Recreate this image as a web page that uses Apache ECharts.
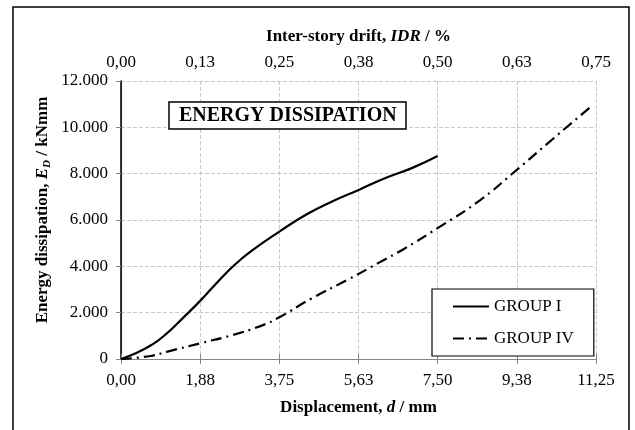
<!DOCTYPE html>
<html>
<head>
<meta charset="utf-8">
<script src="https://cdn.jsdelivr.net/npm/echarts@6/dist/echarts.min.js"></script>
<style>html,body{margin:0;padding:0;background:#fff;}#c{width:635px;height:430px;}</style>
</head>
<body>
<div id="c"></div>
<script>
// ---- data ----
const groupI = [[0,0],[0.35,250],[0.7,580],[1.0,970],[1.5,1830],[1.88,2520],[2.3,3350],[2.7,4080],[3.1,4680],[3.75,5500],[4.4,6250],[5.0,6800],[5.63,7300],[6.25,7800],[6.9,8250],[7.5,8760]];
const groupIV = [[0,0],[0.7,130],[1.1,320],[1.88,680],[2.65,1040],[3.3,1420],[3.75,1800],[4.5,2600],[5.4,3450],[6.1,4150],[6.7,4750],[7.5,5650],[8.5,6850],[9.3,8050],[10.1,9300],[11.1,10850]];
const seriesNames = ['GROUP I', 'GROUP IV'];
const xTickLabels = ['0,00','1,88','3,75','5,63','7,50','9,38','11,25'];
const topTickLabels = ['0,00','0,13','0,25','0,38','0,50','0,63','0,75'];
const yTickLabels = ['0','2.000','4.000','6.000','8.000','10.000','12.000'];

const FONT = '"Liberation Serif", "Times New Roman", serif';
const chart = echarts.init(document.getElementById('c'));
const gridColor = '#c8c8c8';
const axisColor = '#868686';

chart.setOption({
  animation: false,
  backgroundColor: '#fff',
  textStyle: { fontFamily: FONT, color: '#000' },
  title: {
    text: 'ENERGY DISSIPATION',
    left: 169, top: 102,
    padding: [4, 10, 3, 10],
    borderColor: '#000', borderWidth: 1.5,
    backgroundColor: '#fff',
    textStyle: { fontFamily: FONT, fontWeight: 'bold', fontSize: 20, color: '#000' }
  },
  legend: {
    left: 432, top: 289,
    orient: 'vertical',
    padding: [9, 20, 9, 20],
    itemWidth: 36, itemHeight: 14, itemGap: 15,
    borderColor: '#000', borderWidth: 1.2,
    backgroundColor: '#fff',
    itemStyle: { opacity: 0 },
    textStyle: { fontFamily: FONT, fontSize: 17, color: '#000' },
    data: seriesNames
  },
  grid: { left: 121, right: 39, top: 81, bottom: 71 },
  xAxis: [
    {
      type: 'value', position: 'bottom', min: 0, max: 11.25, interval: 1.875,
      name: 'Displacement, {i|d} / mm', nameLocation: 'middle', nameGap: 40,
      nameTextStyle: { fontFamily: FONT, fontWeight: 'bold', fontSize: 17, color: '#000',
        rich: { i: { fontFamily: FONT, fontWeight: 'bold', fontStyle: 'italic', fontSize: 17 } } },
      axisLine: { show: true, lineStyle: { color: axisColor, width: 1.2 } },
      axisTick: { show: true, length: 5, lineStyle: { color: axisColor } },
      axisLabel: { margin: 13, fontFamily: FONT, fontSize: 17, color: '#000',
        formatter: v => xTickLabels[Math.round(v / 1.875)] },
      splitLine: { show: true, lineStyle: { color: gridColor, type: [4, 2], width: 1 } }
    },
    {
      type: 'value', position: 'top', min: 0, max: 0.75, interval: 0.125,
      name: 'Inter-story drift, {i|IDR} / %', nameLocation: 'middle', nameGap: 36,
      nameTextStyle: { fontFamily: FONT, fontWeight: 'bold', fontSize: 17, color: '#000',
        rich: { i: { fontFamily: FONT, fontWeight: 'bold', fontStyle: 'italic', fontSize: 17 } } },
      axisLine: { show: true, lineStyle: { color: axisColor, width: 1.2 } },
      axisTick: { show: true, length: 5, lineStyle: { color: axisColor } },
      axisLabel: { margin: 10, fontFamily: FONT, fontSize: 17, color: '#000',
        formatter: v => topTickLabels[Math.round(v / 0.125)] },
      splitLine: { show: false }
    }
  ],
  yAxis: [
    {
      type: 'value', position: 'left', min: 0, max: 12000, interval: 2000,
      axisLine: { show: true, lineStyle: { color: axisColor, width: 1.2 } },
      axisTick: { show: true, length: 5, lineStyle: { color: axisColor } },
      axisLabel: { margin: 13, fontFamily: FONT, fontSize: 17, color: '#000',
        formatter: v => yTickLabels[Math.round(v / 2000)] },
      splitLine: { show: true, lineStyle: { color: gridColor, type: [4, 2], width: 1 } }
    },
    {
      type: 'value', position: 'right', min: 0, max: 12000, interval: 2000,
      axisLine: { show: true, lineStyle: { color: '#000', width: 1.5 } },
      axisTick: { show: false }, axisLabel: { show: false }, splitLine: { show: false }
    }
  ],
  graphic: [
    { type: 'rect', shape: { x: 13, y: 7, width: 616, height: 450 },
      style: { fill: 'none', stroke: '#000', lineWidth: 1.5 }, z: 100, silent: true },
    { type: 'text', x: 43, y: 210, rotation: Math.PI / 2,
      style: {
        text: 'Energy dissipation, {i|E}{s|D} / kNmm',
        fontFamily: FONT, fontWeight: 'bold', fontSize: 17, fill: '#000',
        align: 'center', verticalAlign: 'middle',
        rich: {
          i: { fontFamily: FONT, fontWeight: 'bold', fontStyle: 'italic', fontSize: 17 },
          s: { fontFamily: FONT, fontWeight: 'bold', fontStyle: 'italic', fontSize: 11, padding: [8, 0, 0, 0] }
        }
      } }
  ],
  series: [
    { name: seriesNames[0], type: 'line', xAxisIndex: 0, yAxisIndex: 0, data: groupI,
      smooth: 0.5, showSymbol: false, symbol: 'none',
      lineStyle: { color: '#000', width: 2.2, type: 'solid' }, itemStyle: { color: '#000' } },
    { name: seriesNames[1], type: 'line', xAxisIndex: 0, yAxisIndex: 0, data: groupIV,
      smooth: 0.5, showSymbol: false, symbol: 'none',
      lineStyle: { color: '#000', width: 2.2, type: [11, 5, 2, 5] }, itemStyle: { color: '#000' } }
  ]
});
</script>
</body>
</html>
